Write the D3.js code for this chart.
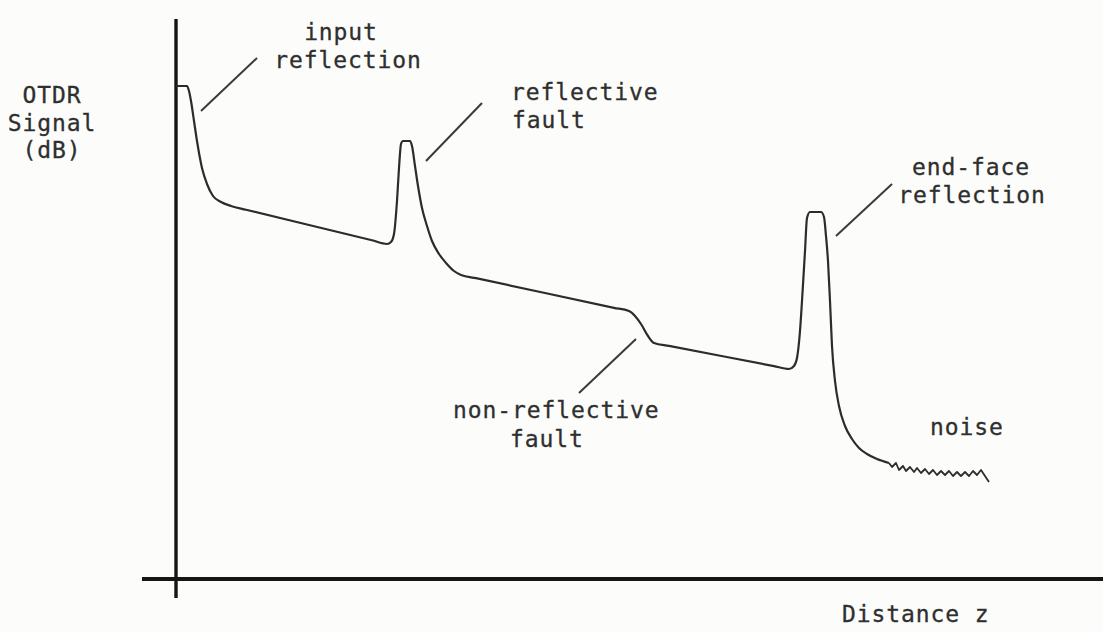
<!DOCTYPE html>
<html>
<head>
<meta charset="utf-8">
<script src="https://cdn.jsdelivr.net/npm/d3@7"></script>
<style>
  body { margin: 0; background: #fcfcfb; }
  svg text { font-family: "DejaVu Sans Mono", "Liberation Mono", monospace; font-size: 23px; fill: #2f2f2f; letter-spacing: 0.9px; stroke: #2f2f2f; stroke-width: 0.3px; }
</style>
</head>
<body>
<div id="chart"></div>
<script>
// OTDR trace, distance z (arbitrary units) vs signal (arbitrary dB units)
const traceZ = [0, 1.1, 1.3, 1.5, 1.8, 2.1, 2.6, 3.1, 3.7, 4.5, 5.5, 7.0,
  19.6, 21.1, 21.5, 21.8, 22.1, 22.3, 22.5, 22.7, 23.4, 23.6, 23.9, 24.2, 24.6, 25.1, 25.6, 26.3, 27.0, 27.8, 28.5, 30.0,
  43.8, 45.3, 45.9, 46.5, 47.2, 47.8, 49.3,
  59.8, 61.3, 61.8, 62.1, 62.4, 62.6, 62.9, 63.1, 63.4, 64.5, 64.8, 65.0, 65.2, 65.4, 65.6, 65.9, 66.3, 66.9, 67.6, 68.3, 69.1, 70.1, 71.3];
const traceS = [49.3, 49.3, 48.8, 47.8, 45.8, 43.8, 41.1, 39.5, 38.3, 37.7, 37.3, 36.93,
  33.87, 33.5, 33.7, 34.5, 37.8, 41.1, 43.5, 43.8, 43.8, 43.3, 41.3, 39.3, 37.1, 35.3, 33.8, 32.5, 31.6, 30.8, 30.4, 30.08,
  27.12, 26.8, 26.3, 25.5, 24.3, 23.6, 23.31,
  21.29, 21.0, 21.3, 22.1, 24.8, 27.8, 32.8, 36.1, 36.7, 36.7, 36.2, 34.3, 31.8, 27.8, 23.3, 19.8, 17.3, 15.3, 14.0, 13.1, 12.5, 12.0, 11.6];

// noise floor after the fibre end
const noiseZ = [71.3, 71.6, 72.0, 72.3, 72.7, 73.0, 73.4, 73.8, 74.1, 74.5, 74.9, 75.3, 75.7, 76.1, 76.5,
  76.9, 77.3, 77.7, 78.1, 78.5, 78.9, 79.3, 79.7, 80.1, 80.5, 80.9, 81.3, 81.8];
const noiseS = [11.6, 11.2, 11.6, 10.9, 11.3, 10.8, 11.2, 10.7, 11.1, 10.6, 11.0, 10.5, 10.9, 10.4,
  10.8, 10.4, 10.8, 10.3, 10.7, 10.3, 10.7, 10.3, 10.8, 10.4, 10.9, 10.3, 9.7];

// annotations: leader line ends (z, s) and label lines
const labelNames = ["input reflection", "reflective fault", "non-reflective fault", "end-face reflection", "noise"];
const leaderFrom = [[2.5, 46.8], [25.0, 41.8], [46.0, 24.0], [66.0, 34.3], null];
const leaderTo = [[8.1, 52.1], [30.6, 47.6], [40.3, 18.6], [71.6, 39.5], null];
const labelLines = [["input", "reflection"], ["reflective", "fault"], ["non-reflective", "fault"], ["end-face", "reflection"], ["noise"]];

const yLabel = ["OTDR", "Signal", "(dB)"];
const xLabel = "Distance z";

const svgWidth = 1103;
const svgHeight = 632;

const svg = d3.select("#chart")
  .append("svg")
  .attr("width", svgWidth)
  .attr("height", svgHeight);

const x = d3.scaleLinear().domain([0, 92.7]).range([176, 1103]);
const y = d3.scaleLinear().domain([0, 56]).range([579, 19]);

// axes (bare lines, no ticks)
svg.append("line")
  .attr("x1", x(-3.4)).attr("x2", x(92.7))
  .attr("y1", y(0)).attr("y2", y(0))
  .attr("stroke", "#151515").attr("stroke-width", 3.8);

svg.append("line")
  .attr("x1", x(0)).attr("x2", x(0))
  .attr("y1", y(56)).attr("y2", y(-1.9))
  .attr("stroke", "#151515").attr("stroke-width", 3.4);

// trace
const trace = traceZ.map((z, i) => ({ z: z, s: traceS[i] }));
const noise = noiseZ.map((z, i) => ({ z: z, s: noiseS[i] }));

svg.append("path")
  .datum(trace)
  .attr("fill", "none")
  .attr("stroke", "#2c2c2c")
  .attr("stroke-width", 2.2)
  .attr("stroke-linejoin", "round")
  .attr("d", d3.line().x(d => x(d.z)).y(d => y(d.s)).curve(d3.curveMonotoneX));

svg.append("path")
  .datum(noise)
  .attr("fill", "none")
  .attr("stroke", "#2c2c2c")
  .attr("stroke-width", 1.8)
  .attr("stroke-linejoin", "round")
  .attr("d", d3.line().x(d => x(d.z)).y(d => y(d.s)));

// leader lines
labelNames.forEach((name, i) => {
  if (!leaderFrom[i]) return;
  svg.append("line")
    .attr("x1", x(leaderFrom[i][0])).attr("y1", y(leaderFrom[i][1]))
    .attr("x2", x(leaderTo[i][0])).attr("y2", y(leaderTo[i][1]))
    .attr("stroke", "#3a3a3a").attr("stroke-width", 2);
});

// label placement (pixel layout)
const labelPos = [
  { anchor: "middle", xs: [341, 348], ys: [40, 68] },
  { anchor: "start", xs: [511, 512], ys: [100, 128] },
  { anchor: "start", xs: [453, 510], ys: [418, 447] },
  { anchor: "middle", xs: [971, 972], ys: [175, 203] },
  { anchor: "start", xs: [930], ys: [435] }
];

labelLines.forEach((lines, i) => {
  lines.forEach((t, j) => {
    svg.append("text")
      .attr("x", labelPos[i].xs[j])
      .attr("y", labelPos[i].ys[j])
      .attr("text-anchor", labelPos[i].anchor)
      .text(t);
  });
});

// axis titles
const yLabelY = [103, 131, 158];
yLabel.forEach((t, i) => {
  svg.append("text")
    .attr("x", 52)
    .attr("y", yLabelY[i])
    .attr("text-anchor", "middle")
    .text(t);
});

svg.append("text")
  .attr("x", 842)
  .attr("y", 622)
  .text(xLabel);
</script>
</body>
</html>
